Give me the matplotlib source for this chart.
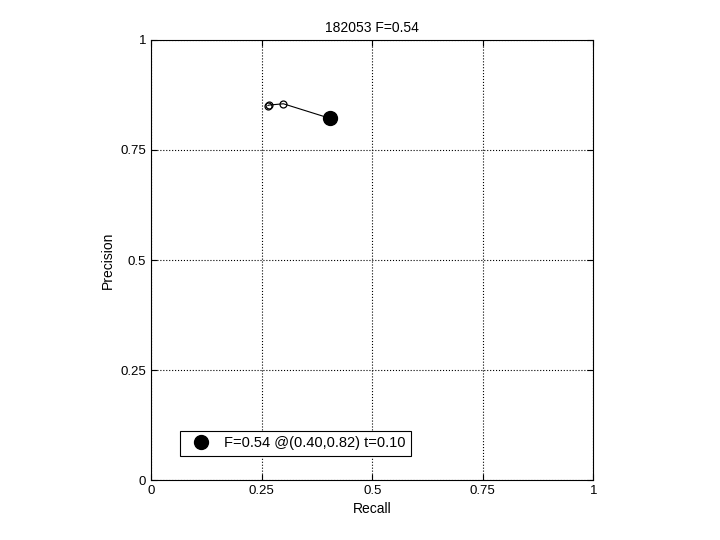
import numpy as np
import matplotlib.pyplot as plt

plt.rcParams['font.family'] = ['Liberation Sans', 'DejaVu Sans']

recall = [0.264, 0.266, 0.299]
precision = [0.851, 0.852, 0.855]
best_r, best_p = 0.404, 0.822
best_f, best_t = 0.54, 0.10
title = '182053 F=0.54'
ticks = [0, 0.25, 0.5, 0.75, 1]
tick_labels = ['0', '0.25', '0.5', '0.75', '1']

fig = plt.figure(figsize=(7.2, 5.4), dpi=100, facecolor='white')
ax = fig.add_axes([0.21, 0.111, 0.614, 0.815])

ax.plot(recall + [best_r], precision + [best_p], 'k-', linewidth=0.8)
ax.plot(recall, precision, 'o', mfc='none', mec='k', ms=5, mew=0.9)
ax.plot([best_r], [best_p], 'o', color='k', ms=10,
        label='F=%.2f @(%.2f,%.2f) t=%.2f' % (best_f, best_r, best_p, best_t))

ax.set_xlim(0, 1)
ax.set_ylim(0, 1)
ax.set_xticks(ticks)
ax.set_yticks(ticks)
ax.set_xticklabels(tick_labels)
ax.set_yticklabels(tick_labels)
ax.tick_params(direction='in', top=True, right=True, labelsize=9.5, length=4)
ax.grid(True, linestyle=':', color='k', linewidth=0.8)
for s in ax.spines.values():
    s.set_linewidth(0.8)

ax.set_xlabel('Recall', fontsize=10)
ax.set_ylabel('Precision', fontsize=10)
ax.set_title(title, fontsize=10)

leg = ax.legend(loc='lower left', bbox_to_anchor=(0.066, 0.054), fancybox=False,
                edgecolor='k', framealpha=1, fontsize=10.5, borderpad=0.4,
                handlelength=2.0, handletextpad=0.6, borderaxespad=0)
leg.get_frame().set_linewidth(0.8)

fig.savefig('out.png', dpi=100)
